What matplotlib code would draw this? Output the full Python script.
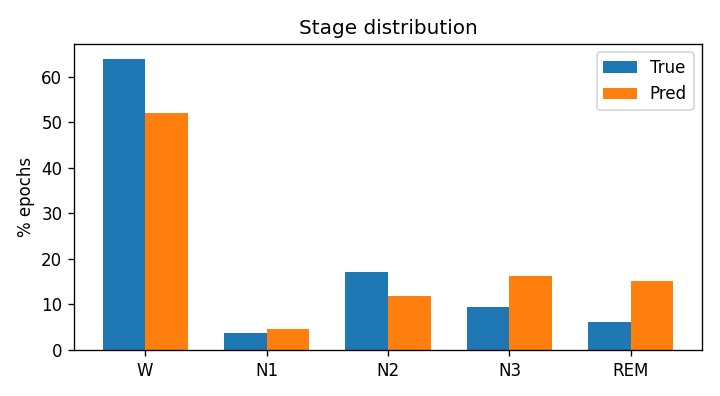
import numpy as np
import matplotlib
matplotlib.use("Agg")
import matplotlib.pyplot as plt

stages = ["W", "N1", "N2", "N3", "REM"]
true_pct = [64.0, 3.7, 17.1, 9.4, 6.1]
pred_pct = [52.1, 4.6, 11.8, 16.2, 15.1]

fig, ax = plt.subplots(figsize=(6.0, 3.3), dpi=120)
x = np.arange(len(stages))
w = 0.35
ax.bar(x - w/2, true_pct, w, label="True")
ax.bar(x + w/2, pred_pct, w, label="Pred")
ax.set_xticks(x)
ax.set_xticklabels(stages)
ax.set_ylabel("% epochs")
ax.set_title("Stage distribution")
ax.legend()
fig.subplots_adjust(left=74/720, right=702/720, bottom=1-350/396, top=1-44/396)
fig.savefig("out.png", dpi=120)
